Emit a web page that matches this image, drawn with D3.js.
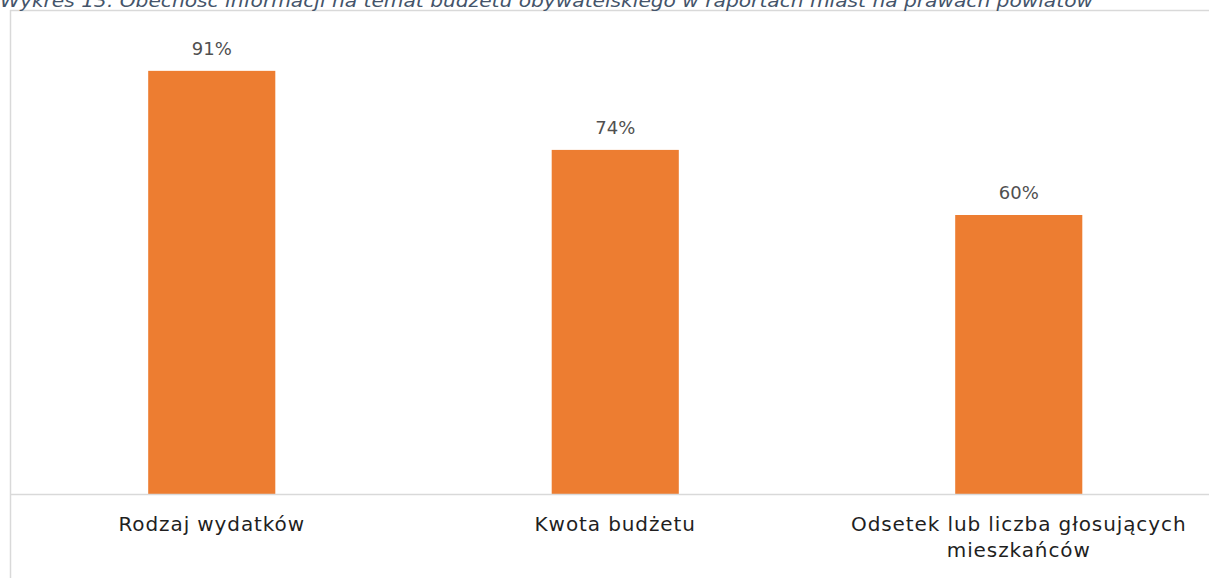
<!DOCTYPE html>
<html>
<head>
<meta charset="utf-8">
<script src="https://cdn.jsdelivr.net/npm/d3@7"></script>
<style>
  body { margin: 0; background: #fff; }
  svg { display: block; }
</style>
</head>
<body>
<script>
let width = 1209;
let height = 578;

let title = 'Wykres 13. Obecność informacji na temat budżetu obywatelskiego w raportach miast na prawach powiatów';
let categories = ['Rodzaj wydatków', 'Kwota budżetu', 'Odsetek lub liczba głosujących mieszkańców'];
let categoryLines = [['Rodzaj wydatków'], ['Kwota budżetu'], ['Odsetek lub liczba głosujących', 'mieszkańców']];
let values = [91, 74, 60];

let frameLeft = 10;
let frameTop = 10;
let baseline = 494;

let x = d3.scaleBand()
.domain(categories)
.range([frameLeft, frameLeft + 3 * 403.5])
.paddingInner(0.685)
.paddingOuter(0.3425);

let y = d3.scaleLinear()
.domain([0, 100])
.range([baseline, 29]);

let svg = d3.select('body')
.append('svg')
.attr('width', width)
.attr('height', height);

// frame
svg.append('line')
.attr('x1', frameLeft + 0.5).attr('x2', frameLeft + 0.5)
.attr('y1', frameTop).attr('y2', height)
.attr('stroke', '#d9d9d9').attr('stroke-width', 1.5);
svg.append('line')
.attr('x1', frameLeft).attr('x2', width)
.attr('y1', frameTop + 0.5).attr('y2', frameTop + 0.5)
.attr('stroke', '#d9d9d9').attr('stroke-width', 1.5);

// title (cut at top, as in the source)
svg.append('text')
.attr('x', 0)
.attr('y', 7)
.attr('font-family', 'DejaVu Sans, sans-serif')
.attr('font-style', 'italic')
.attr('font-weight', 300)
.attr('font-size', 17)
.attr('textLength', 1093)
.attr('lengthAdjust', 'spacingAndGlyphs')
.attr('fill', '#44546a')
.text(title);

// bars
svg.append('g')
.selectAll('rect')
.data(values)
.enter()
.append('rect')
.attr('x', function(d, i){ return x(categories[i]); })
.attr('y', function(d){ return y(d); })
.attr('width', x.bandwidth())
.attr('height', function(d){ return baseline - y(d); })
.attr('fill', '#ed7d31');

// axis line
svg.append('line')
.attr('x1', frameLeft).attr('x2', width)
.attr('y1', baseline + 0.5).attr('y2', baseline + 0.5)
.attr('stroke', '#d9d9d9').attr('stroke-width', 1.5);

// value labels
svg.append('g')
.selectAll('text')
.data(values)
.enter()
.append('text')
.attr('x', function(d, i){ return x(categories[i]) + x.bandwidth() / 2; })
.attr('y', function(d){ return y(d) - 16; })
.attr('text-anchor', 'middle')
.attr('font-family', 'DejaVu Sans, sans-serif')
.attr('font-size', 18)
.attr('fill', '#505050')
.text(function(d){ return d + '%'; });

// category labels
let cats = svg.append('g')
.selectAll('text')
.data(categoryLines)
.enter()
.append('text')
.attr('x', function(d, i){ return x(categories[i]) + x.bandwidth() / 2; })
.attr('y', 531)
.attr('text-anchor', 'middle')
.attr('font-family', 'DejaVu Sans, sans-serif')
.attr('font-size', 20)
.attr('letter-spacing', 0.9)
.attr('fill', '#1f1f1f');

cats.selectAll('tspan')
.data(function(d){ return d; })
.enter()
.append('tspan')
.attr('x', function(){ return d3.select(this.parentNode).attr('x'); })
.attr('dy', function(d, i){ return i === 0 ? 0 : 26; })
.text(function(d){ return d; });
</script>
</body>
</html>
